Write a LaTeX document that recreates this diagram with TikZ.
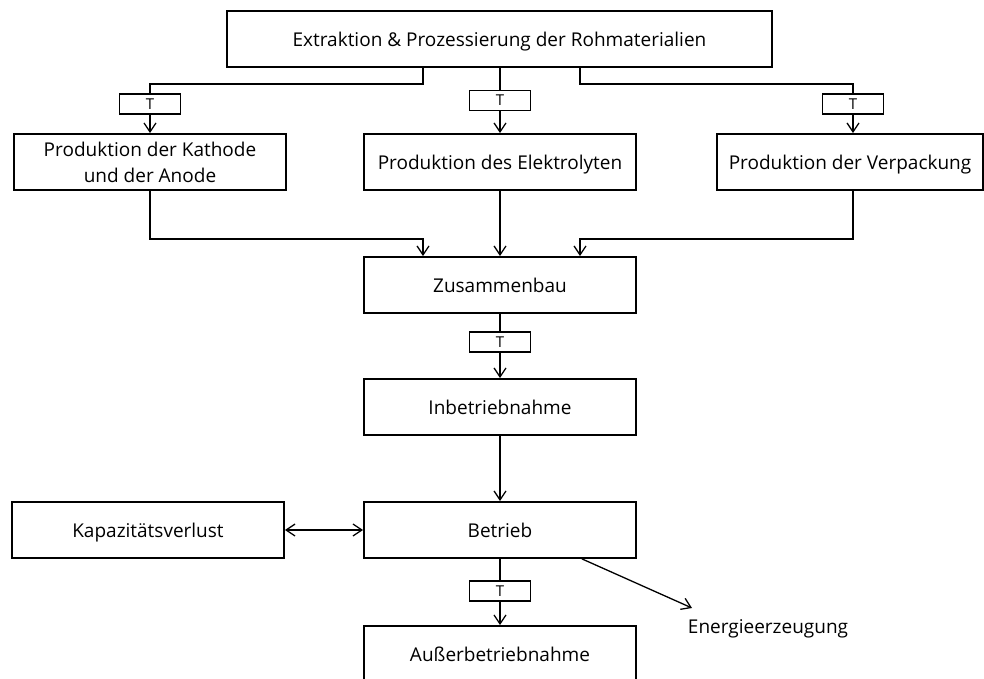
\documentclass[tikz,border=0pt]{standalone}
\usepackage{fontspec}
\setmainfont{Open Sans}
\usetikzlibrary{arrows.meta,positioning}
\tikzset{
  box/.style={draw,line width=1.8pt,minimum width=272pt,minimum height=56pt,inner sep=0pt,align=center,font=\fontsize{19}{26}\selectfont},
  onebox/.style={box,text height=16pt,text depth=1.6pt},
  tbox/.style={draw,line width=1.6pt,minimum width=61pt,minimum height=20pt,inner sep=0pt,font=\fontsize{15}{15}\selectfont},
  ln/.style={line width=1.3pt},
  ar/.style={-{Straight Barb[length=9pt,width=12pt]},line width=1.3pt},
  dar/.style={{Straight Barb[length=9pt,width=12pt]}-{Straight Barb[length=9pt,width=12pt]},line width=1.3pt}
}
\begin{document}
\begin{tikzpicture}[x=1pt,y=-1pt]
\useasboundingbox (0,0) rectangle (984,679);
\node[onebox,minimum width=545pt] (roh) at (499.5,39) {Extraktion \& Prozessierung der Rohmaterialien};
\node[box] (kat) at (150,162) {Produktion der Kathode\\und der Anode};
\node[onebox] (ely) at (500,162) {Produktion des Elektrolyten};
\node[onebox,minimum width=266pt] (vpk) at (850,162) {Produktion der Verpackung};
\node[onebox] (zus) at (500,285) {Zusammenbau};
\node[onebox] (inb) at (500,407) {Inbetriebnahme};
\node[onebox] (bet) at (500,530) {Betrieb};
\node[onebox] (kap) at (148,530) {Kapazitätsverlust};
\node[onebox] (aus) at (500,654) {Außerbetriebnahme};
\node[anchor=base,font=\fontsize{19}{22}\selectfont] (ene) at (768,633) {Energieerzeugung};
\node[tbox] (tkat) at (150,104) {T};
\node[tbox] (tely) at (500,100.5) {T};
\node[tbox] (tvpk) at (853,104) {T};
\node[tbox] (tzus) at (500,342) {T};
\node[tbox] (tbet) at (500,591) {T};
\coordinate (ol) at (423,84);
\coordinate (or) at (580,84);
\coordinate (il) at (423,239);
\coordinate (ir) at (580,239);
\coordinate (ee) at (692,608);
\draw[ln] (roh.south -| ol) -- (ol) -| (tkat.north);
\draw[ln] (roh.south -| tely) -- (tely.north);
\draw[ln] (roh.south -| or) -- (or) -| (tvpk.north);
\draw[ar] (tkat) -- (kat);
\draw[ar] (tely) -- (ely);
\draw[ar] (tvpk.south) -- (tvpk.south |- vpk.north);
\draw[ar] (kat.south) |- (il) -- (il |- zus.north);
\draw[ar] (ely) -- (zus);
\draw[ar] (vpk.south -| tvpk) |- (ir) -- (ir |- zus.north);
\draw[ln] (zus) -- (tzus);
\draw[ar] (tzus) -- (inb);
\draw[ar] (inb) -- (bet);
\draw[dar] (kap) -- (bet);
\draw[ln] (bet) -- (tbet);
\draw[ar] (tbet) -- (aus);
\draw[ar] ([xshift=82pt]bet.south) -- (ee);
\end{tikzpicture}
\end{document}
